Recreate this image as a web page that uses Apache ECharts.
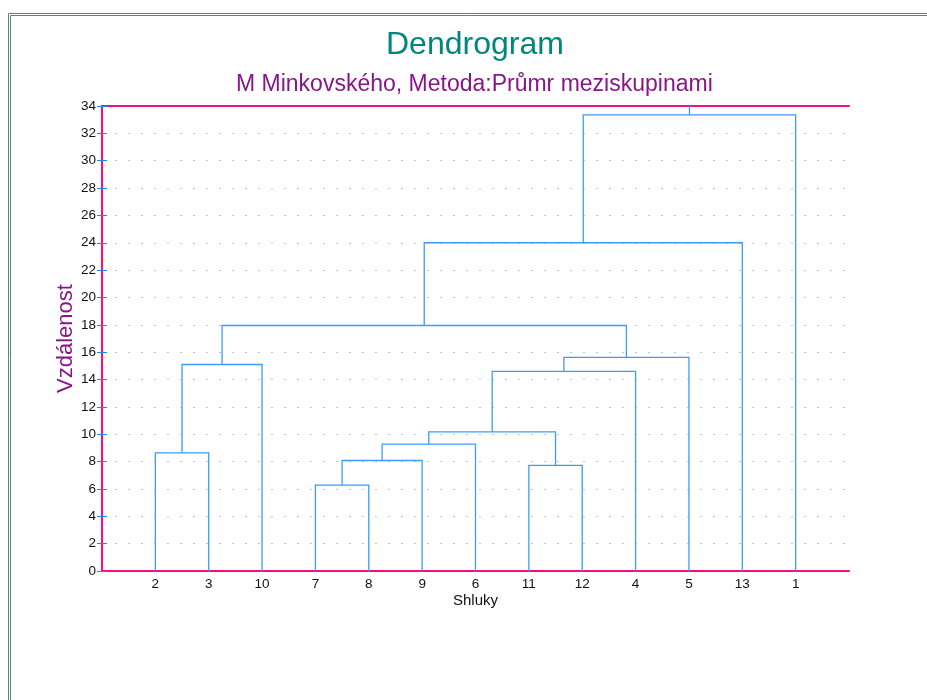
<!DOCTYPE html>
<html>
<head>
<meta charset="utf-8">
<script src="https://cdn.jsdelivr.net/npm/echarts@6/dist/echarts.min.js"></script>
<style>
html,body{margin:0;padding:0;background:#fff;}
#chart{width:927px;height:700px;}
</style>
</head>
<body>
<div id="chart"></div>
<script>
// Leaves in dendrogram order (x-axis labels)
const leaves = ['2','3','10','7','8','9','6','11','12','4','5','13','1'];
// Merges: indices < leaves.length are leaves, otherwise (leaves.length + merge index)
const mergeLeft   = [0, 13, 3, 15, 16, 7, 17, 19, 20, 14, 22, 23];
const mergeRight  = [1, 2, 4, 5, 6, 8, 18, 9, 10, 21, 11, 12];
const mergeHeight = [8.63, 15.1, 6.28, 8.08, 9.28, 7.72, 10.17, 14.6, 15.62, 17.95, 24.0, 33.35];
const yMax = 34;
const yInterval = 2;

// compute node positions from the tree
const nodeX = leaves.map((_, i) => i + 1);
const nodeY = leaves.map(() => 0);
const segs = [];
for (let k = 0; k < mergeLeft.length; k++) {
  const l = mergeLeft[k], r = mergeRight[k], h = mergeHeight[k];
  segs.push([nodeX[l], nodeY[l], nodeX[r], nodeY[r], h]);
  nodeX.push((nodeX[l] + nodeX[r]) / 2);
  nodeY.push(h);
}
const rootIdx = nodeX.length - 1;
const stub = [[nodeX[rootIdx], nodeY[rootIdx], nodeX[rootIdx], yMax]];

const FONT = 'Liberation Sans, Arial, sans-serif';
const LINE = '#3d9bff';
const AXIS = '#ff0a80';

const chart = echarts.init(document.getElementById('chart'), null, {renderer: 'canvas'});
chart.setOption({
  animation: false,
  backgroundColor: '#fff',
  graphic: [
    {type: 'rect', shape: {x: 8.5, y: 13.5, width: 2000, height: 2000}, style: {fill: 'none', stroke: '#4a8c84', lineWidth: 1}, silent: true},
    {type: 'rect', shape: {x: 10.5, y: 15.5, width: 2000, height: 2000}, style: {fill: 'none', stroke: '#4a8c84', lineWidth: 1}, silent: true}
  ],
  title: [
    {text: 'Dendrogram', left: 381, top: 24, textStyle: {color: '#00867c', fontSize: 32, fontWeight: 'normal', fontFamily: FONT}},
    {text: 'M Minkovského, Metoda:Průmr meziskupinami', left: 231, top: 68, textStyle: {color: '#8a158a', fontSize: 23, fontWeight: 'normal', fontFamily: FONT}}
  ],
  grid: {left: 102, right: 78, top: 106, bottom: 129, containLabel: false},
  xAxis: [
    {
      type: 'value', min: 0, max: leaves.length + 1, interval: 1, position: 'bottom',
      name: 'Shluky', nameLocation: 'middle', nameGap: 22, nameMoveOverlap: false,
      nameTextStyle: {color: '#111', fontSize: 15, fontFamily: FONT},
      axisLine: {show: true, lineStyle: {color: AXIS, width: 2}},
      axisTick: {show: false},
      splitLine: {show: false},
      axisLabel: {color: '#111', fontSize: 13.5, fontFamily: FONT, margin: 6,
        formatter: v => (v >= 1 && v <= leaves.length) ? leaves[v - 1] : ''}
    },
    {
      type: 'value', min: 0, max: leaves.length + 1, position: 'top',
      axisLine: {show: true, onZero: false, lineStyle: {color: AXIS, width: 2}},
      axisTick: {show: false}, axisLabel: {show: false}, splitLine: {show: false}
    }
  ],
  yAxis: [
    {
      type: 'value', min: 0, max: yMax, interval: yInterval, position: 'left',
      name: 'Vzdálenost', nameLocation: 'middle', nameGap: 25, nameRotate: 90, nameMoveOverlap: false,
      nameTextStyle: {color: '#8a158a', fontSize: 22, fontFamily: FONT},
      axisLine: {show: true, lineStyle: {color: AXIS, width: 2}},
      axisTick: {show: true, inside: true, length: 5, lineStyle: {color: '#1e88f0', width: 1}},
      axisLabel: {color: '#111', fontSize: 13.5, fontFamily: FONT, margin: 6},
      splitLine: {show: true, lineStyle: {color: '#c4c4c4', type: [2, 11], width: 1}}
    },
    {
      type: 'value', min: 0, max: yMax, interval: yInterval, position: 'right',
      axisLine: {show: true, lineStyle: {color: AXIS, width: 2}},
      axisTick: {show: true, inside: true, length: 5, lineStyle: {color: '#1e88f0', width: 1}},
      axisLabel: {show: false}, splitLine: {show: false}
    }
  ],
  series: [
    {
      type: 'custom',
      data: segs,
      renderItem: (params, api) => {
        const xl = api.value(0), yl = api.value(1), xr = api.value(2), yr = api.value(3), h = api.value(4);
        const pts = [api.coord([xl, yl]), api.coord([xl, h]), api.coord([xr, h]), api.coord([xr, yr])];
        return {type: 'polyline', shape: {points: pts}, style: {fill: null, stroke: LINE, lineWidth: 1.3}};
      },
      encode: {x: [0, 2], y: [1, 3, 4]},
      z: 3
    },
    {
      type: 'custom',
      data: stub,
      renderItem: (params, api) => {
        const a = api.coord([api.value(0), api.value(1)]);
        const b = api.coord([api.value(2), api.value(3)]);
        return {type: 'line', shape: {x1: a[0], y1: a[1], x2: b[0], y2: b[1]}, style: {stroke: LINE, lineWidth: 1.3}};
      },
      encode: {x: [0, 2], y: [1, 3]},
      z: 3
    }
  ]
});
</script>
</body>
</html>
